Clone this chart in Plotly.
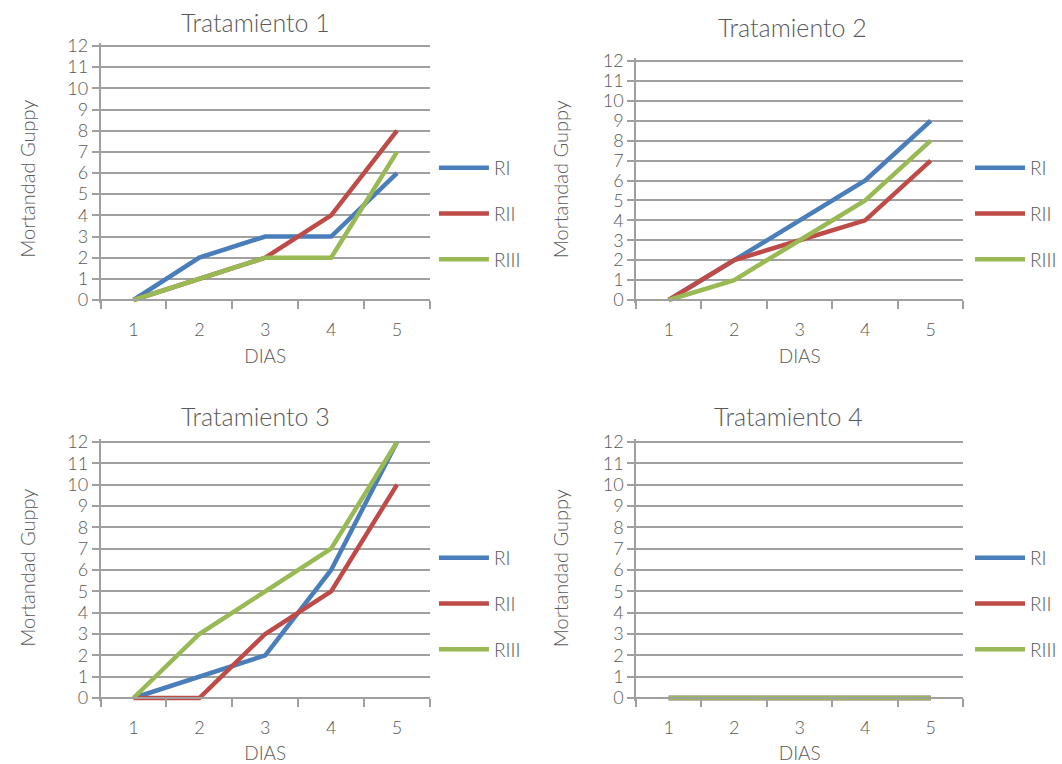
import plotly.graph_objects as go

dias = ["1", "2", "3", "4", "5"]
series_names = ["RI", "RII", "RIII"]
colors = ["#4A7EBB", "#BE4B48", "#98B954"]

t1_RI = [0, 2, 3, 3, 6]
t1_RII = [0, 1, 2, 4, 8]
t1_RIII = [0, 1, 2, 2, 7]

t2_RI = [0, 2, 4, 6, 9]
t2_RII = [0, 2, 3, 4, 7]
t2_RIII = [0, 1, 3, 5, 8]

t3_RI = [0, 1, 2, 6, 12]
t3_RII = [0, 0, 3, 5, 10]
t3_RIII = [0, 3, 5, 7, 12]

t4_RI = [0, 0, 0, 0, 0]
t4_RII = [0, 0, 0, 0, 0]
t4_RIII = [0, 0, 0, 0, 0]

titles = ["Tratamiento 1", "Tratamiento 2", "Tratamiento 3", "Tratamiento 4"]
y_title = "Mortandad Guppy"
x_title = "DIAS"
data = [
    [t1_RI, t1_RII, t1_RIII],
    [t2_RI, t2_RII, t2_RIII],
    [t3_RI, t3_RII, t3_RIII],
    [t4_RI, t4_RII, t4_RIII],
]

W, H = 1062, 764
FONT = "Lato"
TXT = "#595959"
GRID = "#A0A0A0"
FS = 18
FT = 20

# pixel layout of plot areas: (left, right, top(12), bottom(0))
boxes = [
    (101, 432, 46, 300),
    (639, 968, 61, 300),
    (101, 432, 442, 698),
    (639, 968, 442, 698),
]
title_pos = [(257, 22), (796, 27), (257, 416), (792, 416)]
ytitle_pos = [(27, 179), (563, 179), (27, 568), (563, 568)]
legend_pos = [(436, 149), (975, 149), (436, 539), (975, 539)]

YMIN, YMAX = -0.15, 12.15

fig = go.Figure()
layout = dict(
    width=W, height=H, margin=dict(l=0, r=0, t=0, b=0),
    paper_bgcolor="white", plot_bgcolor="white",
    font=dict(family=FONT, color=TXT, size=FS, weight=300),
    annotations=[],
)

for i in range(4):
    n = i + 1
    xa = "x" if n == 1 else f"x{n}"
    ya = "y" if n == 1 else f"y{n}"
    lg = "legend" if n == 1 else f"legend{n}"
    for j, name in enumerate(series_names):
        fig.add_trace(go.Scatter(
            x=dias, y=data[i][j], name=name, mode="lines",
            line=dict(color=colors[j], width=4.5),
            xaxis=xa, yaxis=ya, legend=lg, legendgroup=f"g{n}_{j}",
        ))
    l, r, t, b = boxes[i]
    ppu = (b - t) / 12.0
    top_px = t - (YMAX - 12) * ppu
    bot_px = b + (0 - YMIN) * ppu
    xdom = [l / W, r / W]
    ydom = [1 - bot_px / H, 1 - top_px / H]
    key_x = "xaxis" if n == 1 else f"xaxis{n}"
    key_y = "yaxis" if n == 1 else f"yaxis{n}"
    layout[key_x] = dict(
        domain=xdom, anchor="free", position=1 - b / H,
        type="category", range=[-0.5, 4.5],
        tickson="boundaries", ticks="outside", ticklen=8, tickwidth=1.5,
        tickcolor=GRID, showgrid=False, showline=True, linecolor=GRID,
        linewidth=1.5, zeroline=False, automargin=False,
        ticklabelstandoff=14,
        tickfont=dict(size=FS, color=TXT, family=FONT, weight=300), fixedrange=True,
        title=dict(text=x_title, font=dict(size=19, color=TXT, family=FONT, weight=300), standoff=9),
    )
    layout[key_y] = dict(
        domain=ydom, anchor=xa, range=[YMIN, YMAX], tick0=0, dtick=1,
        ticks="outside", ticklen=7, tickwidth=1.5, tickcolor=GRID,
        showgrid=True, gridcolor=GRID, gridwidth=1.5,
        zeroline=True, zerolinecolor=GRID, zerolinewidth=1.5,
        showline=True, linecolor=GRID, linewidth=1.5, automargin=False,
        tickfont=dict(size=FS, color=TXT, family=FONT, weight=300), fixedrange=True,
    )
    lx, ly = legend_pos[i]
    layout[lg] = dict(
        x=lx / W, y=1 - ly / H, xanchor="left", yanchor="top",
        bgcolor="rgba(0,0,0,0)", font=dict(size=19, color=TXT, family=FONT, weight=300),
        tracegroupgap=18, itemwidth=50,
    )
    tx, ty = title_pos[i]
    layout["annotations"].append(dict(
        text=titles[i], x=tx / W, y=1 - ty / H, xref="paper", yref="paper",
        showarrow=False, xanchor="center", yanchor="middle",
        font=dict(size=25, color=TXT, family=FONT, weight=300),
    ))
    yx, yy = ytitle_pos[i]
    layout["annotations"].append(dict(
        text=y_title, x=yx / W, y=1 - yy / H, xref="paper", yref="paper",
        showarrow=False, xanchor="center", yanchor="middle", textangle=-90,
        font=dict(size=FT, color=TXT, family=FONT, weight=300),
    ))

fig.update_layout(**layout)
fig.write_html("out.html")
